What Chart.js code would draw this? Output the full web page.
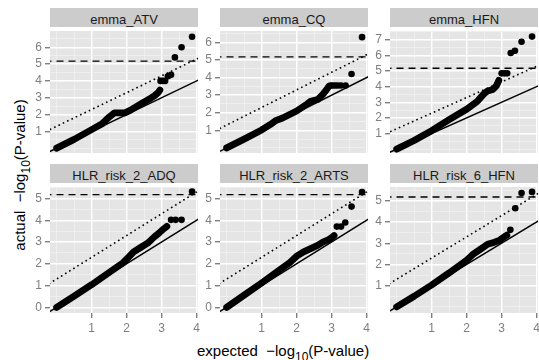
<!DOCTYPE html>
<html>
<head>
<meta charset="utf-8">
<script src="https://cdn.jsdelivr.net/npm/chart.js@4.4.1/dist/chart.umd.min.js"></script>
<style>
  html, body { margin: 0; padding: 0; background: #fff; overflow: hidden; }
  body { width: 539px; height: 360px; position: relative; font-family: "Liberation Sans", Arial, sans-serif; }
  canvas { position: absolute; }
  .strip {
    position: absolute; width: 148px; height: 19px; box-sizing: border-box;
    padding-top: 2px; line-height: 19px; background: #cccccc;
    font-size: 13px; color: #1a1a1a; text-align: center; white-space: nowrap;
  }
  .axis-title { position: absolute; font-size: 15px; line-height: 18px; color: #000; white-space: nowrap; }
  .axis-title sub { font-size: 12px; vertical-align: baseline; position: relative; top: 5px; }
</style>
</head>
<body>
<div class="axis-title" style="left:197px; top:342px;">expected&nbsp;&nbsp;&minus;log<sub>10</sub>(P-value)</div>
<div class="axis-title" style="left:20px; top:175px; transform: translate(-50%, -50%) rotate(-90deg);">actual&nbsp;&nbsp;&minus;log<sub>10</sub>(P-value)</div>
<script>
const panelTitles = ['emma_ATV', 'emma_CQ', 'emma_HFN', 'HLR_risk_2_ADQ', 'HLR_risk_2_ARTS', 'HLR_risk_6_HFN'];

// [expected, actual] -log10(p): bulk of each distribution
const emmaATV = [[0, 0], [0.5, 0.52], [1.0, 1.1], [1.3, 1.45], [1.5, 1.85], [1.65, 2.1], [1.95, 2.1], [2.1, 2.25],
  [2.3, 2.5], [2.5, 2.75], [2.65, 2.92], [2.8, 3.12], [2.9, 3.3], [2.95, 3.45]];
const emmaCQ = [[0, 0], [0.5, 0.5], [1.0, 1.02], [1.3, 1.4], [1.4, 1.55], [1.6, 1.7], [2.0, 2.1], [2.3, 2.5],
  [2.4, 2.65], [2.6, 2.75], [2.75, 3.05], [2.85, 3.3], [2.92, 3.5]];
const emmaHFN = [[0, 0], [0.5, 0.55], [1.0, 1.18], [1.5, 1.88], [2.0, 2.55], [2.3, 3.05], [2.5, 3.55], [2.6, 3.72],
  [2.75, 3.82], [2.85, 4.05], [2.92, 4.4]];
const adq2 = [[0, 0], [0.5, 0.52], [1.0, 1.04], [1.5, 1.6], [1.9, 2.05], [2.05, 2.3], [2.2, 2.55], [2.4, 2.75],
  [2.6, 2.95], [2.8, 3.25], [2.95, 3.45], [3.07, 3.62], [3.15, 3.72]];
const arts2 = [[0, 0], [0.5, 0.56], [1.0, 1.12], [1.5, 1.7], [1.8, 2.05], [2.0, 2.35], [2.2, 2.55], [2.4, 2.7],
  [2.6, 2.85], [2.75, 3.0], [2.9, 3.1], [3.0, 3.2], [3.07, 3.3]];
const hfn6 = [[0, 0], [0.5, 0.5], [1.0, 1.03], [1.5, 1.6], [2.0, 2.2], [2.2, 2.5], [2.4, 2.72], [2.6, 2.95],
  [2.8, 3.05], [2.95, 3.15], [3.07, 3.3], [3.15, 3.38]];

// top-ranked markers, drawn as separate dots
const emmaATVTop = [[2.97, 4.0], [3.03, 4.0], [3.1, 4.0], [3.18, 4.28], [3.27, 4.36], [3.38, 5.4], [3.57, 6.0], [3.87, 6.63]];
const emmaCQTop = [[2.97, 3.55], [3.03, 3.55], [3.1, 3.55], [3.18, 3.55], [3.27, 3.55], [3.4, 3.55], [3.57, 4.2], [3.87, 6.3]];
const emmaHFNTop = [[3.0, 4.85], [3.08, 4.85], [3.16, 4.85], [3.26, 6.15], [3.38, 6.3], [3.57, 6.87], [3.87, 7.2]];
const adq2Top = [[3.27, 4.02], [3.4, 4.02], [3.57, 4.02], [3.87, 5.32]];
const arts2Top = [[3.15, 3.71], [3.27, 3.71], [3.39, 3.9], [3.57, 4.63], [3.87, 5.3]];
const hfn6Top = [[3.25, 3.63], [3.39, 4.65], [3.57, 5.37], [3.87, 5.42]];

const curves = [emmaATV, emmaCQ, emmaHFN, adq2, arts2, hfn6];
const tops = [emmaATVTop, emmaCQTop, emmaHFNTop, adq2Top, arts2Top, hfn6Top];

const xLimits = [-0.19, 4.04];
const xBreaks = [1, 2, 3, 4];
const yLimits = [[-0.29, 6.97], [-0.29, 6.65], [-0.25, 7.56], [-0.26, 5.53], [-0.26, 5.53], [-0.29, 5.65]];
const yBreaks = [[1, 2, 3, 4, 5, 6], [1, 2, 3, 4, 5, 6], [1, 2, 3, 4, 5, 6, 7], [0, 1, 2, 3, 4, 5], [0, 1, 2, 3, 4, 5], [1, 2, 3, 4, 5]];

const threshold = 5.18;    // dashed genome-wide line
const nominalShift = 1.3;  // dotted line offset above y = x

// panel geometry
const plotLefts = [50, 220, 390];
const rowTops = [27, 183];
const PLOT_W = 148, PLOT_H = 130, Y_AXIS_W = 22, X_AXIS_H = 22, RIGHT_PAD = 8;

Chart.defaults.font.family = '"Liberation Sans", Arial, sans-serif';
Chart.defaults.font.size = 12;

const panelBackground = {
  id: 'panelBackground',
  beforeDraw(chart) {
    const a = chart.chartArea, ctx = chart.ctx;
    ctx.save();
    ctx.fillStyle = '#e5e5e5';
    ctx.fillRect(a.left, a.top, a.right - a.left, a.bottom - a.top);
    ctx.restore();
  }
};

function halfSteps(min, max) {
  const out = [];
  for (let v = Math.ceil(min * 2) / 2; v <= max + 1e-9; v += 0.5) out.push({ value: Math.round(v * 2) / 2 });
  return out;
}

function gridFor(breaks) {
  return {
    color: c => breaks.includes(c.tick.value) ? '#ffffff' : '#f2f2f2',
    lineWidth: c => breaks.includes(c.tick.value) ? 1.4 : 0.7,
    tickColor: c => breaks.includes(c.tick.value) ? '#7f7f7f' : 'rgba(0,0,0,0)',
    tickLength: 5
  };
}

function refLine(intercept, slope) {
  const x0 = xLimits[0] - 0.5, x1 = xLimits[1] + 0.5;
  return [{ x: x0, y: intercept + slope * x0 }, { x: x1, y: intercept + slope * x1 }];
}

function toPoints(pairs) {
  return pairs.map(([x, y]) => ({ x, y }));
}

panelTitles.forEach((title, i) => {
  const col = i % 3, row = Math.floor(i / 3);
  const bottomRow = row === 1;

  const strip = document.createElement('div');
  strip.className = 'strip';
  strip.style.left = plotLefts[col] + 'px';
  strip.style.top = (rowTops[row] - 19) + 'px';
  strip.textContent = title;
  document.body.appendChild(strip);

  const canvas = document.createElement('canvas');
  const w = Y_AXIS_W + PLOT_W + RIGHT_PAD;
  const h = PLOT_H + (bottomRow ? X_AXIS_H : 0);
  canvas.width = w; canvas.height = h;
  canvas.style.width = w + 'px'; canvas.style.height = h + 'px';
  canvas.style.left = (plotLefts[col] - Y_AXIS_W) + 'px';
  canvas.style.top = rowTops[row] + 'px';
  document.body.appendChild(canvas);

  const [yMin, yMax] = yLimits[i];
  const yb = yBreaks[i];

  new Chart(canvas, {
    type: 'scatter',
    data: {
      datasets: [
        {
          data: toPoints(tops[i]),
          pointRadius: 3.3, pointBackgroundColor: '#000', pointBorderWidth: 0, showLine: false, clip: 0
        },
        {
          data: toPoints(curves[i]),
          showLine: true, borderColor: '#000', borderWidth: 6.8, pointRadius: 0,
          borderCapStyle: 'round', borderJoinStyle: 'round', clip: 0
        },
        {
          data: refLine(0, 1),
          showLine: true, borderColor: '#000', borderWidth: 1.5, pointRadius: 0, clip: 0
        },
        {
          data: refLine(nominalShift, 1),
          showLine: true, borderColor: '#000', borderWidth: 1.6, borderDash: [1.6, 3.2], pointRadius: 0, clip: 0
        },
        {
          data: refLine(threshold, 0),
          showLine: true, borderColor: '#000', borderWidth: 1.4, borderDash: [7, 5], pointRadius: 0, clip: 0
        }
      ]
    },
    options: {
      responsive: false,
      animation: false,
      events: [],
      devicePixelRatio: 1,
      layout: { padding: { left: 0, top: 0, right: RIGHT_PAD, bottom: 0 } },
      plugins: { legend: { display: false }, tooltip: { enabled: false } },
      scales: {
        x: {
          type: 'linear', min: xLimits[0], max: xLimits[1],
          afterBuildTicks: s => { s.ticks = halfSteps(xLimits[0], xLimits[1]); },
          afterFit: s => {
            s.height = bottomRow ? X_AXIS_H : 0;
            s.paddingLeft = s.paddingRight = s.paddingTop = s.paddingBottom = 0;
          },
          grid: Object.assign(gridFor(xBreaks), { drawTicks: bottomRow }),
          border: { display: false },
          ticks: {
            display: bottomRow, color: '#7f7f7f', padding: 3, maxRotation: 0, autoSkip: false,
            callback: v => xBreaks.includes(v) ? String(v) : ''
          }
        },
        y: {
          type: 'linear', min: yMin, max: yMax,
          afterBuildTicks: s => { s.ticks = halfSteps(yMin, yMax); },
          afterFit: s => {
            s.width = Y_AXIS_W;
            s.paddingLeft = s.paddingRight = s.paddingTop = s.paddingBottom = 0;
          },
          grid: gridFor(yb),
          border: { display: false },
          ticks: {
            color: '#7f7f7f', padding: 3, autoSkip: false,
            callback: v => yb.includes(v) ? String(v) : ''
          }
        }
      }
    },
    plugins: [panelBackground]
  });
});
</script>
</body>
</html>
